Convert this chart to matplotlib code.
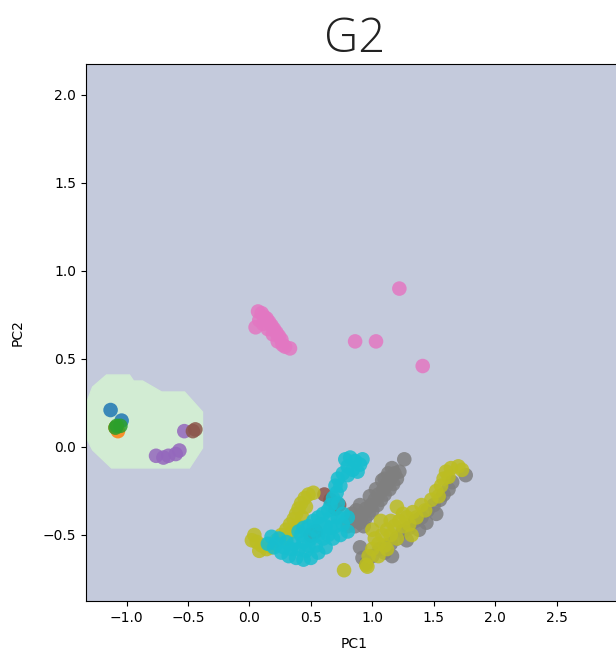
import matplotlib
matplotlib.use("Agg")
import matplotlib.pyplot as plt
import numpy as np

# ------------------------------------------------------------
# PCA projection of the G2 group, one list of (PC1, PC2) per class
# ------------------------------------------------------------

class_blue = [(-1.13, 0.21), (-1.04, 0.15)]
class_orange = [(-1.07, 0.09), (-1.09, 0.11)]
class_green = [(-1.08, 0.12), (-1.05, 0.12), (-1.09, 0.11)]
class_red = []
class_purple = [(-0.76, -0.05), (-0.70, -0.06), (-0.66, -0.05), (-0.60, -0.04),
                (-0.57, -0.02), (-0.53, 0.09)]
class_brown = [(-0.46, 0.09), (-0.44, 0.10), (0.61, -0.27), (0.66, -0.30),
               (0.73, -0.33), (0.70, -0.35), (0.50, -0.50), (0.54, -0.48)]
class_pink = [(0.07, 0.77), (0.10, 0.76), (0.12, 0.74), (0.14, 0.73), (0.16, 0.71),
              (0.08, 0.72), (0.11, 0.70), (0.18, 0.69), (0.20, 0.67), (0.15, 0.67),
              (0.22, 0.65), (0.24, 0.63), (0.19, 0.64), (0.26, 0.61), (0.23, 0.60),
              (0.27, 0.58), (0.29, 0.57), (0.33, 0.56), (0.05, 0.68), (0.86, 0.60),
              (1.03, 0.60), (1.22, 0.90), (1.41, 0.46)]
class_gray = [(0.84, -0.42), (0.86, -0.45), (0.88, -0.40), (0.90, -0.43), (0.92, -0.38),
              (0.94, -0.41), (0.95, -0.35), (0.97, -0.38), (0.99, -0.33), (1.00, -0.36),
              (1.02, -0.30), (1.04, -0.33), (1.05, -0.27), (1.07, -0.30), (1.09, -0.24),
              (1.10, -0.27), (1.12, -0.21), (1.14, -0.24), (1.15, -0.18), (1.17, -0.21),
              (1.18, -0.15), (1.20, -0.18), (1.22, -0.14), (1.26, -0.07), (0.87, -0.36),
              (0.93, -0.45), (1.10, -0.18), (0.80, -0.45), (0.98, -0.28), (1.03, -0.24),
              (1.08, -0.19), (1.13, -0.15), (0.90, -0.33), (0.83, -0.38), (1.16, -0.12),
              (0.92, -0.63), (0.95, -0.66), (1.00, -0.62), (1.06, -0.58), (1.10, -0.60),
              (1.15, -0.55), (1.20, -0.52), (1.25, -0.48), (1.30, -0.46), (1.35, -0.42),
              (1.40, -0.40), (1.45, -0.36), (1.50, -0.33), (1.55, -0.30), (1.58, -0.27),
              (1.62, -0.24), (1.65, -0.20), (1.76, -0.16), (1.38, -0.47), (1.44, -0.43),
              (1.52, -0.38), (0.90, -0.57), (1.16, -0.62), (1.28, -0.53)]
class_olive = [(0.95, -0.67), (0.97, -0.62), (1.00, -0.58), (1.02, -0.52), (1.05, -0.55),
               (1.08, -0.50), (1.10, -0.56), (1.12, -0.47), (1.15, -0.50), (1.18, -0.45),
               (1.20, -0.52), (1.22, -0.42), (1.25, -0.45), (1.28, -0.40), (1.30, -0.44),
               (1.33, -0.37), (1.36, -0.40), (1.20, -0.34), (1.40, -0.33), (1.43, -0.36),
               (1.48, -0.30), (1.52, -0.25), (1.56, -0.22), (1.58, -0.18), (1.60, -0.14),
               (1.64, -0.12), (1.70, -0.11), (1.73, -0.13), (1.05, -0.62), (1.12, -0.58),
               (1.00, -0.47), (1.07, -0.42), (1.15, -0.42), (1.25, -0.38), (1.32, -0.50),
               (1.54, -0.28), (1.62, -0.17),
               (0.04, -0.50), (0.06, -0.54), (0.10, -0.56), (0.14, -0.58), (0.18, -0.57),
               (0.22, -0.53), (0.26, -0.50), (0.30, -0.47), (0.33, -0.44), (0.36, -0.41),
               (0.38, -0.38), (0.40, -0.35), (0.42, -0.32), (0.45, -0.29), (0.48, -0.27),
               (0.52, -0.26), (0.35, -0.48), (0.30, -0.52), (0.43, -0.40), (0.08, -0.59),
               (0.02, -0.53), (0.39, -0.45), (0.46, -0.34), (0.77, -0.70), (0.96, -0.68)]
class_cyan = [(0.78, -0.07), (0.82, -0.06), (0.86, -0.08), (0.90, -0.10), (0.80, -0.11),
              (0.84, -0.13), (0.88, -0.14), (0.76, -0.15), (0.72, -0.18), (0.70, -0.22),
              (0.71, -0.26), (0.68, -0.29), (0.66, -0.33), (0.64, -0.36), (0.72, -0.32),
              (0.60, -0.38), (0.56, -0.40), (0.52, -0.42), (0.48, -0.45), (0.44, -0.46),
              (0.40, -0.48), (0.66, -0.40), (0.72, -0.40), (0.76, -0.44), (0.80, -0.48),
              (0.62, -0.45), (0.56, -0.50), (0.50, -0.52), (0.44, -0.54), (0.36, -0.55),
              (0.30, -0.54), (0.24, -0.52), (0.18, -0.51), (0.15, -0.55), (0.20, -0.57),
              (0.26, -0.60), (0.32, -0.62), (0.38, -0.63), (0.44, -0.64), (0.50, -0.63),
              (0.56, -0.60), (0.62, -0.57), (0.68, -0.52), (0.74, -0.50), (0.28, -0.57),
              (0.40, -0.58), (0.54, -0.56), (0.66, -0.46), (0.80, -0.40), (0.60, -0.52),
              (0.34, -0.58), (0.46, -0.59), (0.52, -0.47), (0.58, -0.44), (0.70, -0.45),
              (0.64, -0.50), (0.22, -0.55), (0.42, -0.50), (0.48, -0.56), (0.76, -0.38),
              (0.74, -0.22), (0.80, -0.16), (0.92, -0.07)]

classes = [class_blue, class_orange, class_green, class_red, class_purple,
           class_brown, class_pink, class_gray, class_olive, class_cyan]

# outline of the region assigned to the first cluster
region_pc1 = [-1.163, -0.976, -0.943, -0.870, -0.715, -0.528, -0.382, -0.382,
              -0.488, -1.122, -1.276, -1.317, -1.317, -1.276]
region_pc2 = [0.409, 0.409, 0.375, 0.375, 0.3125, 0.3125, 0.199, -0.006,
              -0.119, -0.119, -0.017, 0.04, 0.267, 0.341]

# ------------------------------------------------------------
# Plot
# ------------------------------------------------------------

fig = plt.figure(figsize=(6.16, 6.51), dpi=100)
ax = fig.add_axes([86 / 616, 50 / 651, 537 / 616, 537 / 651])
ax.set_facecolor("#c4cadc")

ax.fill(region_pc1, region_pc2, color="#d2ecd3", zorder=1)

colors = plt.get_cmap("tab10").colors
for i, pts in enumerate(classes):
    if not pts:
        continue
    pts = np.array(pts)
    ax.scatter(pts[:, 0], pts[:, 1], s=110, color=colors[i], alpha=0.85,
               edgecolors="none", zorder=2)

ax.set_xlim(-1.33, 3.04)
ax.set_ylim(-0.875, 2.176)
ax.set_xticks(np.arange(-1.0, 3.0, 0.5))
ax.set_yticks(np.arange(-0.5, 2.5, 0.5))

ax.set_xlabel("PC1", labelpad=9)
ax.set_ylabel("PC2", labelpad=13)
ax.set_title("G2", fontsize=34, fontweight="light", color="#222222",
             family=["Open Sans", "DejaVu Sans"], pad=9)

fig.savefig("out.png", dpi=100)
